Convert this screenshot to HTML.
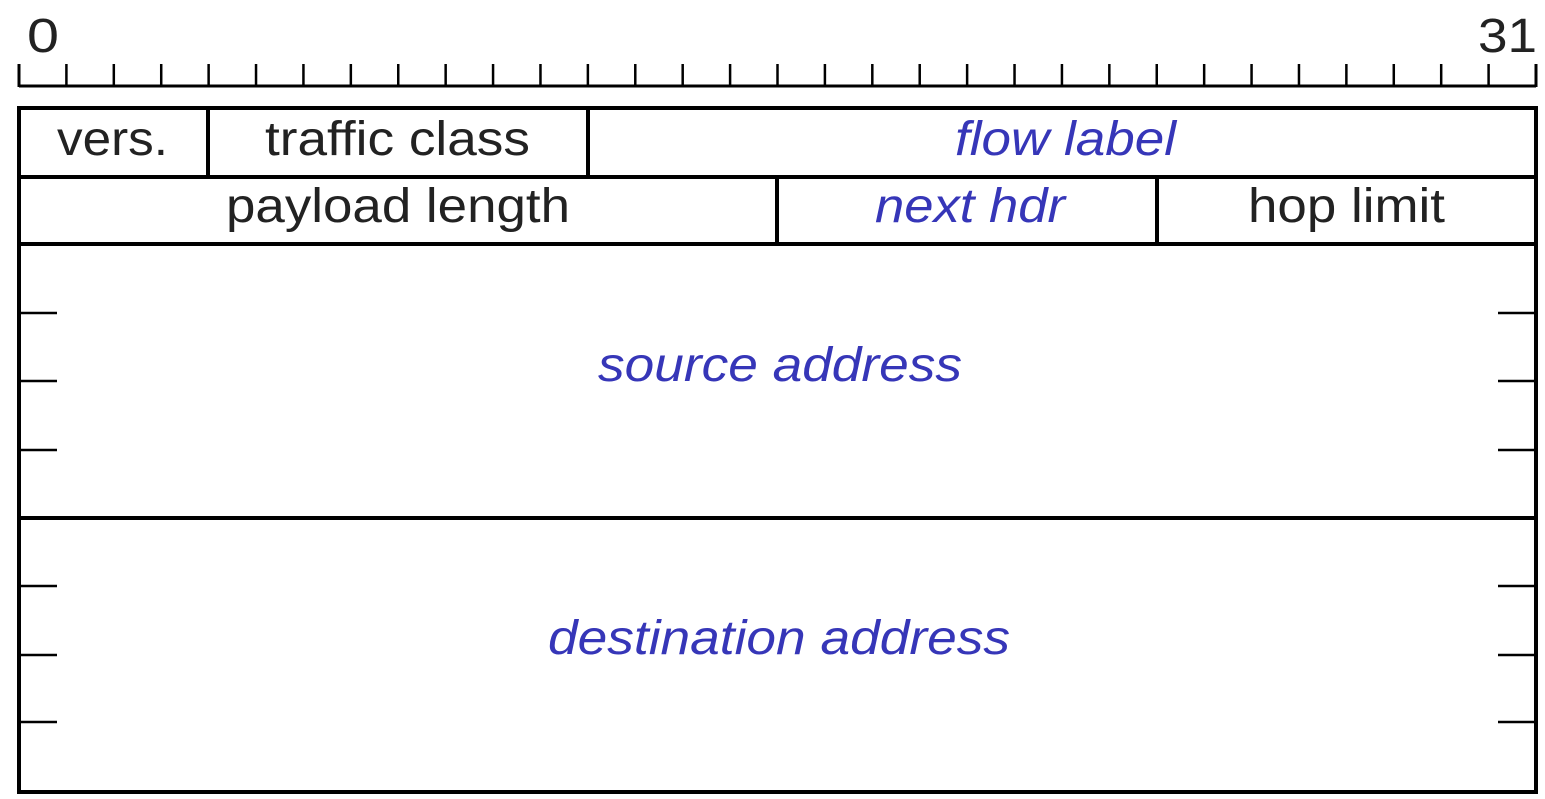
<!DOCTYPE html>
<html><head><meta charset="utf-8"><style>
html,body{margin:0;padding:0;background:#fff;}
svg{display:block;}
text{font-family:"Liberation Sans",sans-serif;font-size:48px;}
.b{fill:#222;}
.u{fill:#3636b8;font-style:italic;}
</style></head><body>
<svg width="1545" height="799" viewBox="0 0 1545 799" xmlns="http://www.w3.org/2000/svg">
<text x="27" y="52" class="b" font-size="56" textLength="32" lengthAdjust="spacingAndGlyphs">0</text>
<text x="1478" y="52" class="b" font-size="56" textLength="59" lengthAdjust="spacingAndGlyphs">31</text>
<g stroke="#000" stroke-width="3">
<line x1="19" y1="86" x2="1536" y2="86"/>
<line x1="19" y1="64" x2="19" y2="87"/>
<line x1="1536" y1="64" x2="1536" y2="87"/>
</g>
<g stroke="#000" stroke-width="2.5" id="ticks"></g>
<g stroke="#000" stroke-width="4" fill="none">
<rect x="19" y="108" width="1517" height="684"/>
<line x1="19" y1="177" x2="1536" y2="177"/>
<line x1="19" y1="244" x2="1536" y2="244"/>
<line x1="19" y1="518" x2="1536" y2="518"/>
<line x1="208" y1="108" x2="208" y2="177"/>
<line x1="588" y1="108" x2="588" y2="177"/>
<line x1="777" y1="177" x2="777" y2="244"/>
<line x1="1157" y1="177" x2="1157" y2="244"/>
</g>
<g stroke="#000" stroke-width="2.5">
<line x1="19" y1="313" x2="57" y2="313"/><line x1="1498" y1="313" x2="1536" y2="313"/>
<line x1="19" y1="381" x2="57" y2="381"/><line x1="1498" y1="381" x2="1536" y2="381"/>
<line x1="19" y1="450" x2="57" y2="450"/><line x1="1498" y1="450" x2="1536" y2="450"/>
<line x1="19" y1="586" x2="57" y2="586"/><line x1="1498" y1="586" x2="1536" y2="586"/>
<line x1="19" y1="655" x2="57" y2="655"/><line x1="1498" y1="655" x2="1536" y2="655"/>
<line x1="19" y1="722" x2="57" y2="722"/><line x1="1498" y1="722" x2="1536" y2="722"/>
</g>
<text x="57" y="155" class="b" textLength="111" lengthAdjust="spacingAndGlyphs">vers.</text>
<text x="265" y="155" class="b" textLength="265" lengthAdjust="spacingAndGlyphs">traffic class</text>
<text x="955" y="155" class="u" textLength="221" lengthAdjust="spacingAndGlyphs">flow label</text>
<text x="226" y="222" class="b" textLength="344" lengthAdjust="spacingAndGlyphs">payload length</text>
<text x="875" y="222" class="u" textLength="190" lengthAdjust="spacingAndGlyphs">next hdr</text>
<text x="1248" y="222" class="b" textLength="197" lengthAdjust="spacingAndGlyphs">hop limit</text>
<text x="598" y="381" class="u" textLength="364" lengthAdjust="spacingAndGlyphs">source address</text>
<text x="548" y="654" class="u" textLength="462" lengthAdjust="spacingAndGlyphs">destination address</text>
<script>
var g=document.getElementById('ticks');
for(var i=1;i<32;i++){var x=19+i*1517/32;var l=document.createElementNS('http://www.w3.org/2000/svg','line');
l.setAttribute('x1',x);l.setAttribute('x2',x);l.setAttribute('y1',64);l.setAttribute('y2',86);g.appendChild(l);}
</script>
</svg>
</body></html>
